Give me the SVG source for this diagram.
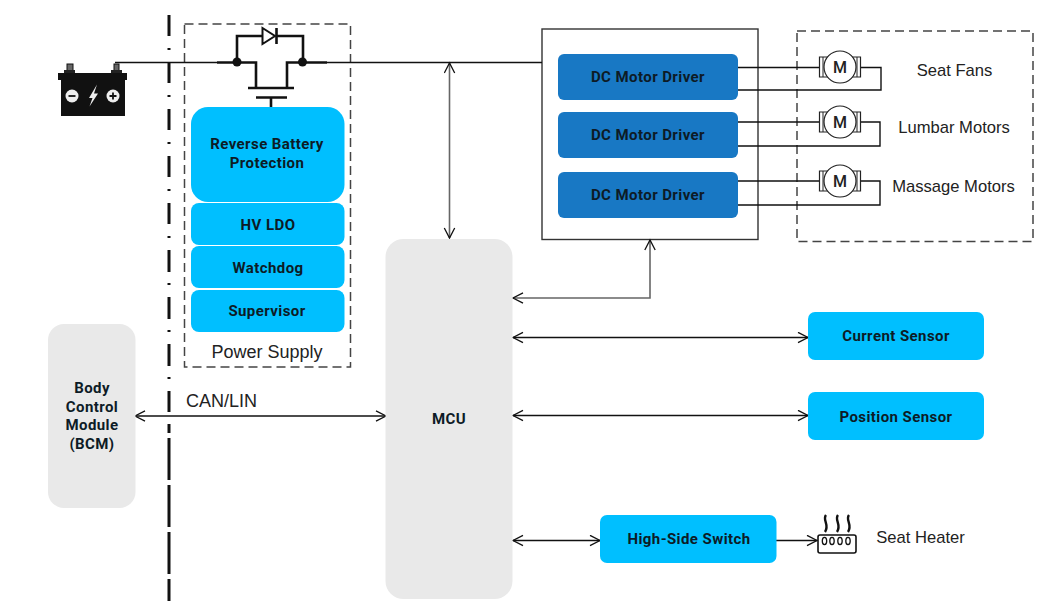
<svg xmlns="http://www.w3.org/2000/svg" width="1060" height="612" viewBox="0 0 1060 612">
<style>
.b{font-family:"Roboto","Liberation Sans",sans-serif;font-weight:700;font-size:15px;letter-spacing:.42px;fill:#0d1b26;text-anchor:middle}
.t{font-family:"Liberation Sans",Arial,sans-serif;font-size:16.600px;fill:#222;text-anchor:middle}
.l{font-size:18px}
.cy{fill:#00bfff}
.dk{fill:#1878c4}
.gr{fill:#e9e9e9}
.w{fill:none;stroke:#111;stroke-width:1.4}
.g{fill:none;stroke:#666;stroke-width:1.6}
.h{fill:none;stroke:#111;stroke-width:2.6}
.d{fill:none;stroke:#444;stroke-width:1.5;stroke-dasharray:9 5}
.m{fill:#fff;stroke:#222;stroke-width:1.2}
.ml{font-family:"Roboto",sans-serif;font-weight:500;font-size:16px;fill:#222;text-anchor:middle}
</style>
<defs>
<marker id="a" markerWidth="14" markerHeight="14" refX="11" refY="6" orient="auto-start-reverse" markerUnits="userSpaceOnUse"><path d="M1 .8L11 6L1 11.200" fill="none" stroke="#111" stroke-width="1.300"/></marker>
<g id="motor">
<path d="M-12 -10H-20.500V10H-12M12 -10H20.500V10H12" fill="#fff" stroke="#222" stroke-width="1.200"/>
<path d="M-17 -10V10M17 -10V10" stroke="#222" stroke-width="1"/>
<circle r="16" class="m"/>
</g>
</defs>

<path id="boundary" fill="none" stroke="#111" stroke-width="3" d="M169 15V36M169 48V50M169 62V83M169 95V97M169 109V130M169 142V144M169 156V177M169 189V191M169 203V224M169 236V238M169 250V272M169 283V285M169 297V319M169 330V332M169 344V366M169 377V379M169 391V412M169 424V433M169 438V480M169 485V527M169 532V574M169 579V601"/>
<rect id="power-frame" x="184.500" y="24" width="166" height="343" class="d"/>
<rect id="motor-frame" x="797" y="31" width="236" height="210.500" class="d"/>

<g id="drivers"><rect x="542" y="29" width="216" height="210.500" fill="#fff" stroke="#333" stroke-width="1.400"/></g>

<g id="connectors">
<path class="w" d="M115 62.500H217M327 62.500H542"/>
<path class="g" d="M449.500 238V63" marker-start="url(#a)" marker-end="url(#a)"/>
<path class="g" d="M513 298H650V240" marker-start="url(#a)" marker-end="url(#a)"/>
<path class="w" d="M513 337.500H808" marker-start="url(#a)" marker-end="url(#a)"/>
<path class="w" d="M513 415.500H808" marker-start="url(#a)" marker-end="url(#a)"/>
<path class="w" d="M135 416H386" marker-start="url(#a)" marker-end="url(#a)"/>
<path class="w" d="M513 540.500H600" marker-start="url(#a)" marker-end="url(#a)"/>
<path class="w" d="M776 540.500H817" marker-end="url(#a)"/>
<path class="w" d="M738 67.500H820M738 90H881V67.500H861"/>
<path class="w" d="M738 122H820M738 146H880V122H861"/>
<path class="w" d="M738 181H820M738 205H880V181H861"/>
</g>

<g id="battery">
<rect x="67" y="64" width="6" height="6.500" fill="#666" stroke="#111"/>
<rect x="114" y="64" width="5" height="6.500" fill="#666" stroke="#111"/>
<rect x="64" y="70" width="11" height="3" fill="#222"/>
<rect x="111" y="70" width="11" height="3" fill="#222"/>
<rect x="58" y="73" width="69" height="7" fill="#111"/>
<rect x="61" y="80" width="64" height="36" fill="#111"/>
<circle cx="72" cy="96" r="6.500" fill="#eee"/><path d="M68.500 96H75.500" stroke="#111" stroke-width="1.800"/>
<circle cx="113" cy="96" r="6.500" fill="#eee"/><path d="M109.500 96H116.500M113 92.500V99.500" stroke="#111" stroke-width="1.800"/>
<path d="M97 84.500L89 98H92.500L89.500 106.500L98 93.500H94Z" fill="#eee"/>
</g>

<g id="switch">
<path class="h" d="M217 62.500H256V88.500M248 88H294M287 88.500V62.500H327"/>
<path class="h" d="M237 62.500V36H262M276 36H303V62.500"/>
<path d="M262.500 28V44L275 36Z" fill="#fff" stroke="#111" stroke-width="2"/>
<path class="h" d="M276.500 28V44"/>
<circle cx="237" cy="62" r="4.500" fill="#111"/>
<circle cx="302.500" cy="62" r="4.500" fill="#111"/>
<path class="h" d="M256 97.500H287M271 97.500V107"/>
</g>

<g id="rbp"><rect x="191" y="107" width="153.500" height="95" rx="17" class="cy"/>
<text class="b" x="267" y="149">Reverse Battery</text><text class="b" x="267" y="168">Protection</text></g>
<g id="ldo"><rect x="191" y="203" width="153.500" height="42" rx="8" class="cy"/><text class="b" x="268" y="230">HV LDO</text></g>
<g id="watchdog"><rect x="191" y="246" width="153.500" height="42" rx="8" class="cy"/><text class="b" x="268" y="273">Watchdog</text></g>
<g id="supervisor"><rect x="191" y="290" width="153.500" height="42" rx="8" class="cy"/><text class="b" x="267" y="316">Supervisor</text></g>
<text class="t l" x="267" y="358">Power Supply</text>

<g id="bcm"><rect x="48" y="324" width="87.500" height="184" rx="16" class="gr"/>
<text class="b" x="92" y="393">Body</text><text class="b" x="92" y="412">Control</text><text class="b" x="92" y="430">Module</text><text class="b" x="92" y="449">(BCM)</text></g>
<text class="t l" x="221.500" y="407">CAN/LIN</text>

<g id="mcu"><rect x="385.500" y="239" width="127" height="360" rx="18" class="gr"/><text class="b" x="449" y="424">MCU</text></g>

<g id="driver-1"><rect x="558" y="54" width="180" height="46" rx="6" class="dk"/><text class="b" x="648" y="82">DC Motor Driver</text></g>
<g id="driver-2"><rect x="558" y="112" width="180" height="46" rx="6" class="dk"/><text class="b" x="648" y="140">DC Motor Driver</text></g>
<g id="driver-3"><rect x="558" y="172" width="180" height="46" rx="6" class="dk"/><text class="b" x="648" y="200">DC Motor Driver</text></g>

<g id="seat-fans"><use href="#motor" x="840" y="67"/><text class="ml" x="840" y="72.500">M</text><text class="t" x="954.500" y="76">Seat Fans</text></g>
<g id="lumbar"><use href="#motor" x="840" y="122"/><text class="ml" x="840" y="127.500">M</text><text class="t" x="954" y="133">Lumbar Motors</text></g>
<g id="massage"><use href="#motor" x="840" y="181"/><text class="ml" x="840" y="186.500">M</text><text class="t" x="953.500" y="192">Massage Motors</text></g>

<g id="current"><rect x="808" y="312" width="176" height="48" rx="7" class="cy"/><text class="b" x="896" y="341">Current Sensor</text></g>
<g id="position"><rect x="808" y="392" width="176" height="48" rx="7" class="cy"/><text class="b" x="896" y="422">Position Sensor</text></g>
<g id="hss"><rect x="600" y="515" width="176.500" height="48" rx="7" class="cy"/><text class="b" x="689" y="544">High-Side Switch</text></g>

<g id="heater">
<rect x="818" y="535" width="38" height="18" rx="2" fill="#fff" stroke="#111" stroke-width="1.600"/>
<g fill="none" stroke="#111" stroke-width="1.300"><ellipse cx="824.500" cy="541" rx="2.200" ry="3.600"/><ellipse cx="832" cy="541" rx="2.200" ry="3.600"/><ellipse cx="840" cy="541" rx="2.200" ry="3.600"/><ellipse cx="848" cy="541" rx="2.200" ry="3.600"/></g>
<path d="M826 515C822 520 830 525 825 532M838 515C834 520 842 525 837 532M849 515C845 520 853 525 848 532" fill="none" stroke="#111" stroke-width="2.400"/>
<text class="t" x="920.500" y="543">Seat Heater</text>
</g>
</svg>
